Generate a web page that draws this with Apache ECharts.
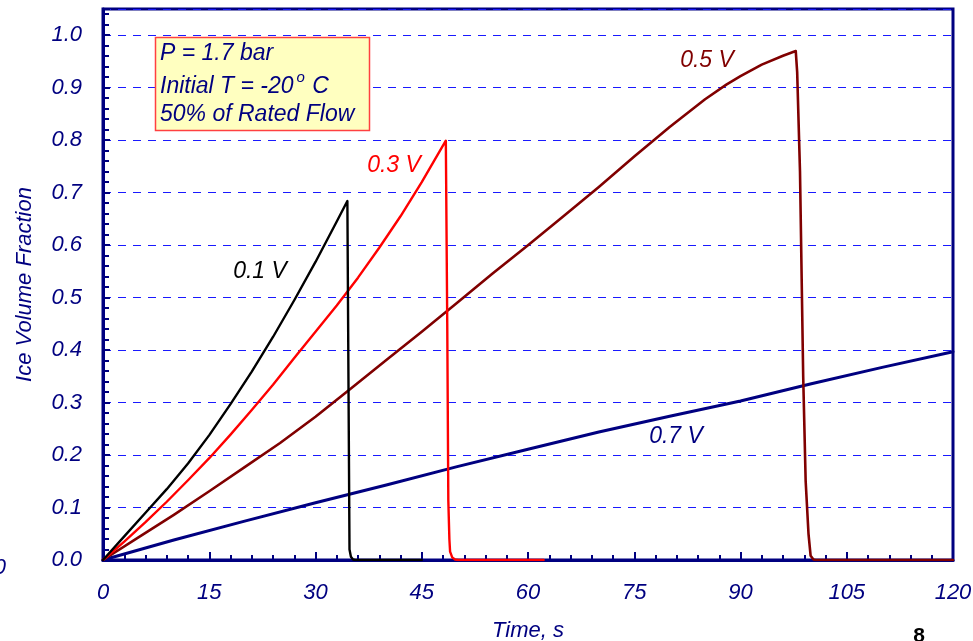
<!DOCTYPE html>
<html>
<head>
<meta charset="utf-8">
<script src="https://cdn.jsdelivr.net/npm/echarts@6/dist/echarts.min.js"></script>
<style>
html,body{margin:0;padding:0;background:#fff;}
#chart{width:973px;height:641px;}
</style>
</head>
<body>
<div id="chart"></div>
<script>
// ---- Data ----
const xTicks = [0, 15, 30, 45, 60, 75, 90, 105, 120];
const yTicks = [0.0, 0.1, 0.2, 0.3, 0.4, 0.5, 0.6, 0.7, 0.8, 0.9, 1.0];

// 0.1 V (black)
const t01 = [0, 3, 6, 9, 12, 15, 18, 21, 24, 27, 30, 33, 34.5, 34.65, 34.8, 35.0, 35.3, 35.6, 45];
const v01 = [0, 0.045, 0.09, 0.135, 0.184, 0.238, 0.297, 0.359, 0.425, 0.495, 0.568, 0.645, 0.684, 0.35, 0.02, 0.006, 0.001, 0, 0];

// 0.3 V (red)
const t03 = [0, 3, 6, 9, 12, 15, 18, 21, 24, 27, 30, 33, 36, 39, 42, 45, 48.4, 48.6, 48.75, 48.9, 49.0, 49.3, 49.7, 50.2, 62.2];
const v03 = [0, 0.035, 0.072, 0.111, 0.152, 0.194, 0.239, 0.286, 0.334, 0.385, 0.435, 0.485, 0.538, 0.595, 0.655, 0.72, 0.799, 0.45, 0.114, 0.04, 0.016, 0.005, 0.001, 0, 0];

// 0.5 V (dark red)
const t05 = [0, 5, 10, 15, 20, 25, 30, 35, 40, 45, 50, 55, 60, 65, 70, 75, 80, 85, 88, 90, 93, 96, 97.8, 98.0, 98.4, 98.85, 99.2, 99.6, 99.9, 100.3, 100.6, 120];
const v05 = [0, 0.043, 0.086, 0.131, 0.177, 0.223, 0.273, 0.327, 0.381, 0.435, 0.49, 0.546, 0.6, 0.655, 0.711, 0.769, 0.825, 0.878, 0.906, 0.922, 0.944, 0.961, 0.970, 0.93, 0.74, 0.35, 0.15, 0.05, 0.008, 0.001, 0, 0];

// 0.7 V (navy)
const t07 = [0, 10, 20, 30, 40, 50, 60, 70, 80, 90, 100, 110, 120];
const v07 = [0, 0.038, 0.074, 0.109, 0.143, 0.178, 0.211, 0.244, 0.274, 0.303, 0.336, 0.367, 0.397];

const seriesNames = ['0.7 V', '0.5 V', '0.3 V', '0.1 V'];
const annotationLines = ['P = 1.7 bar', 'Initial T = -20', '50% of Rated Flow'];

// ---- Chart ----
const NAVY = '#000080';
const FONT = '"Liberation Sans", Arial, sans-serif';
const pair = (t, v) => t.map((x, i) => [x, v[i]]);

const chart = echarts.init(document.getElementById('chart'), null, {renderer: 'canvas'});

function mkSeries(name, data, color, width) {
  return {
    name: name, type: 'line', data: data, showSymbol: false, symbol: 'none',
    smooth: false, animation: false,
    lineStyle: {color: color, width: width, join: 'round', cap: 'round'},
    z: 3
  };
}

const option = {
  animation: false,
  backgroundColor: '#ffffff',
  grid: {
    left: 103, right: 20, top: 9, bottom: 81,
    containLabel: false, outerBoundsMode: 'none',
    show: true, borderColor: NAVY, borderWidth: 3, backgroundColor: 'transparent'
  },
  xAxis: {
    type: 'value', min: xTicks[0], max: xTicks[xTicks.length - 1], interval: xTicks[1] - xTicks[0],
    name: 'Time, s', nameLocation: 'middle', nameGap: 60,
    nameTextStyle: {color: NAVY, fontSize: 22, fontStyle: 'italic', fontFamily: FONT},
    axisLine: {show: true, onZero: false, lineStyle: {color: NAVY, width: 3}},
    axisTick: {show: true, inside: true, length: 8, lineStyle: {color: NAVY, width: 2}},
    minorTick: {show: true, splitNumber: 5, length: 5, lineStyle: {color: NAVY, width: 2}},
    axisLabel: {color: NAVY, fontSize: 22, fontStyle: 'italic', fontFamily: FONT, margin: 22,
      formatter: v => String(v)},
    splitLine: {show: false}
  },
  yAxis: {
    type: 'value', min: 0, max: 1.05, interval: 0.1,
    name: 'Ice Volume Fraction', nameLocation: 'middle', nameGap: 67,
    nameTextStyle: {color: NAVY, fontSize: 22, fontStyle: 'italic', fontFamily: FONT},
    axisLine: {show: true, onZero: false, lineStyle: {color: NAVY, width: 3}},
    axisTick: {show: true, inside: true, length: 7, lineStyle: {color: NAVY, width: 2}},
    minorTick: {show: true, splitNumber: 5, length: 6, lineStyle: {color: NAVY, width: 2}},
    axisLabel: {color: NAVY, fontSize: 22, fontStyle: 'italic', fontFamily: FONT, margin: 21,
      showMaxLabel: false,
      formatter: v => (yTicks.some(t => Math.abs(t - v) < 1e-6) ? v.toFixed(1) : '')},
    splitLine: {show: true, lineStyle: {color: '#1a1aff', width: 1, type: [8, 7], opacity: 1}}
  },
  series: [
    mkSeries(seriesNames[0], pair(t07, v07), NAVY, 3),
    mkSeries(seriesNames[1], pair(t05, v05), '#800000', 2.6),
    mkSeries(seriesNames[2], pair(t03, v03), '#ff0000', 2.4),
    mkSeries(seriesNames[3], pair(t01, v01), '#000000', 2.4)
  ],
  graphic: [
    {type: 'rect', z: 100, shape: {x: 155.5, y: 37.5, width: 214, height: 93},
      style: {fill: '#ffffc0', stroke: '#ff4040', lineWidth: 1.5}},
    {type: 'text', z: 101, left: 160, top: 42,
      style: {text: annotationLines[0], fill: NAVY, font: 'italic 23px ' + FONT}},
    {type: 'text', z: 101, left: 160, top: 70,
      style: {text: '{a|' + annotationLines[1] + '}{s|o}{a| C}', fill: NAVY, font: 'italic 23px ' + FONT,
        rich: {
          a: {fontSize: 23, fontStyle: 'italic', fontFamily: FONT, color: NAVY, lineHeight: 28, verticalAlign: 'bottom'},
          s: {fontSize: 15, fontStyle: 'italic', fontFamily: FONT, color: NAVY, lineHeight: 28, verticalAlign: 'top', padding: [0, 1, 0, 3]}
        }}},
    {type: 'text', z: 101, left: 160, top: 103,
      style: {text: annotationLines[2], fill: NAVY, font: 'italic 23px ' + FONT}},
    // curve labels
    {type: 'text', z: 101, x: 260, y: 272, style: {text: seriesNames[3], fill: '#000000', font: 'italic 23px ' + FONT, align: 'center', verticalAlign: 'middle'}},
    {type: 'text', z: 101, x: 394, y: 166, style: {text: seriesNames[2], fill: '#ff0000', font: 'italic 23px ' + FONT, align: 'center', verticalAlign: 'middle'}},
    {type: 'text', z: 101, x: 707, y: 61, style: {text: seriesNames[1], fill: '#800000', font: 'italic 23px ' + FONT, align: 'center', verticalAlign: 'middle'}},
    {type: 'text', z: 101, x: 676, y: 437, style: {text: seriesNames[0], fill: NAVY, font: 'italic 23px ' + FONT, align: 'center', verticalAlign: 'middle'}},
    // cut-off stray "0" at the left edge and page number
    {type: 'text', z: 101, x: 6, y: 568, style: {text: '0', fill: NAVY, font: 'italic 22px ' + FONT, align: 'right', verticalAlign: 'middle'}},
    {type: 'text', z: 101, x: 919, y: 636, style: {text: '8', fill: '#000000', font: 'bold 21px ' + FONT, align: 'center', verticalAlign: 'middle'}}
  ]
};
chart.setOption(option);
</script>
</body>
</html>
